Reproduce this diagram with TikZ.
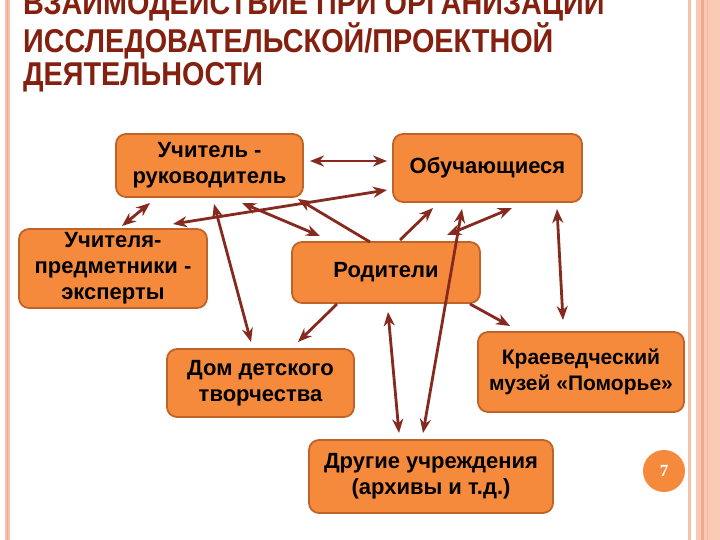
\documentclass[tikz,border=0pt]{standalone}
\usepackage{fontspec}
\usepackage{graphicx}
\setmainfont{Liberation Sans}
\newfontfamily\serifnum{Liberation Serif}
\usetikzlibrary{calc,arrows.meta}
\definecolor{boxfill}{HTML}{F68A3C}
\definecolor{boxline}{HTML}{BE6428}
\definecolor{arrcol}{HTML}{862A1F}
\definecolor{titlecol}{HTML}{84200F}
\definecolor{bandcol}{HTML}{FAC9B6}
\definecolor{stripecol}{HTML}{F0A98C}
\definecolor{thincol}{HTML}{F6C2AE}
\begin{document}
\begin{tikzpicture}[x=1bp,y=-1bp,
  box/.style={draw=boxline, line width=1.8bp, fill=boxfill, rounded corners=10bp,
    align=center, inner sep=0pt, font=\fontsize{22bp}{26bp}\selectfont\bfseries},
  tipshape/.style={},
  arr/.style={draw=arrcol, line width=2.8bp, -{Stealth[length=14bp,width=11bp]}},
  arrb/.style={draw=arrcol, line width=2.8bp, {Stealth[length=14bp,width=11bp]}-{Stealth[length=14bp,width=11bp]}},
  titletext/.style={anchor=base west, inner sep=0pt, text=titlecol,
    font=\fontsize{33bp}{33bp}\selectfont\bfseries}]
\useasboundingbox (0,0) rectangle (720,540);
\fill[white] (0,0) rectangle (720,540);
% side borders
\fill[thincol] (5,0) rectangle (10,540);
\draw[stripecol, line width=0.8bp] (7.5,0) -- (7.5,540);
\fill[thincol] (688,0) rectangle (691,540);
\fill[bandcol] (696,0) rectangle (720,540);
\fill[stripecol] (701,0) rectangle (703.5,540);
\draw[stripecol!60!bandcol, line width=1bp] (707,0) -- (707,540);
% title
\node[titletext] (t1) at (23,15) {\scalebox{0.873}[1]{ВЗАИМОДЕЙСТВИЕ ПРИ ОРГАНИЗАЦИИ}};
\node[titletext] (t2) at (23,53) {\scalebox{0.873}[1]{ИССЛЕДОВАТЕЛЬСКОЙ/ПРОЕКТНОЙ}};
\node[titletext] (t3) at (23,86) {\scalebox{0.873}[1]{ДЕЯТЕЛЬНОСТИ}};
% nodes
\node[box, minimum width=187bp, minimum height=63bp] (uch) at (209.5,165.5) {Учитель -\\руководитель};
\node[box, minimum width=189bp, minimum height=68bp] (obu) at (487.5,168) {Обучающиеся};
\node[box, minimum width=188bp, minimum height=79bp] (exp) at (113,268.5) {Учителя-\\предметники -\\эксперты};
\node[box, minimum width=188bp, minimum height=61bp] (rod) at (386,272.5) {Родители};
\node[box, minimum width=187bp, minimum height=68bp] (dom) at (260.5,383) {Дом детского\\творчества};
\node[box, minimum width=206bp, minimum height=80bp, font=\fontsize{21bp}{26bp}\selectfont\bfseries] (muz) at (581,372) {Краеведческий\\музей «Поморье»};
\node[box, minimum width=244bp, minimum height=73bp] (dru) at (431,476.5) {Другие учреждения\\(архивы и т.д.)};
\node[circle, fill=boxfill, minimum size=42bp, inner sep=0pt, text=white,
  font=\fontsize{17bp}{17bp}\selectfont\serifnum\bfseries] (num) at (664,471) {7};
% connectors
\draw[arrb] ($(uch)+(100.5,-4.5)$) -- ($(obu)+(-100.5,-7)$);
\draw[arrb] ($(uch)+(-59.5,37.5)$) -- ($(exp)+(9,-42.5)$);
\draw[arrb] ($(obu)+(-100.5,22)$) -- ($(exp)+(60,-44.5)$);
\draw[arrb] ($(uch)+(32.5,37.5)$) -- ($(rod)+(-66,-36.5)$);
\draw[arr] ($(rod)+(-16,-30.5)$) -- ($(uch)+(88.5,33.5)$);
\draw[arr] ($(rod)+(14,-32.5)$) -- ($(obu)+(-54.5,40)$);
\draw[arrb] ($(rod)+(61,-37.5)$) -- ($(obu)+(24.5,40)$);
\draw[arrb] ($(obu)+(-25.5,41)$) -- ($(dru)+(-8,-43.5)$);
\draw[arrb] ($(obu)+(69.5,41)$) -- ($(muz)+(-18,-52)$);
\draw[arrb] ($(uch)+(4.5,38.5)$) -- ($(dom)+(-9.5,-41)$);
\draw[arr] ($(rod)+(-49,31.5)$) -- ($(dom)+(37.5,-41)$);
\draw[arr] ($(rod)+(84,31.5)$) -- ($(muz)+(-71,-46)$);
\draw[arrb] ($(rod)+(2,39.5)$) -- ($(dru)+(-32,-43.5)$);
\end{tikzpicture}
\end{document}
